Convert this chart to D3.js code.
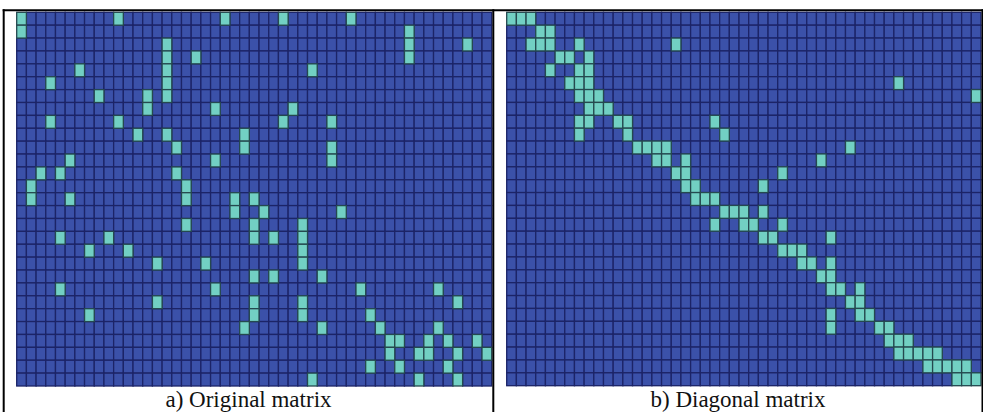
<!DOCTYPE html>
<html>
<head>
<meta charset="utf-8">
<script src="https://cdn.jsdelivr.net/npm/d3@7"></script>
<style>
  body { margin: 0; background: #fff; }
  svg { display: block; }
</style>
</head>
<body>
<div id="container"></div>
<script>
// sparse matrix, one list of non-zero column indices per row
const rowIds = d3.range(29);
const colIds = d3.range(49);

// a) original matrix
const originalMatrix = [
  [0, 10, 21, 27, 34],
  [0, 40],
  [15, 40, 46],
  [15, 18, 40],
  [6, 15, 30],
  [3, 15],
  [8, 13, 15],
  [13, 20, 28],
  [3, 10, 27, 32],
  [12, 15, 23],
  [16, 23, 32],
  [5, 20, 32],
  [2, 4, 16],
  [1, 17],
  [1, 5, 17, 22, 24],
  [22, 25, 33],
  [17, 24, 29],
  [4, 9, 24, 26, 29],
  [7, 11, 29],
  [14, 19, 29],
  [24, 26, 31],
  [4, 20, 35, 43],
  [14, 24, 29, 45],
  [7, 24, 29, 36],
  [23, 31, 37, 43],
  [38, 39, 42, 44, 47],
  [38, 41, 42, 45, 48],
  [36, 39, 44],
  [30, 41, 45]
];

// b) diagonal (reordered) matrix
const diagonalMatrix = [
  [0, 1, 2],
  [3, 4],
  [2, 3, 4, 7, 17],
  [5, 6, 8],
  [4, 7, 8],
  [6, 7, 8, 40],
  [7, 8, 9, 48],
  [8, 9, 10],
  [7, 8, 11, 12, 21],
  [7, 12, 22],
  [13, 14, 15, 16, 35],
  [15, 16, 18, 32],
  [17, 18, 28],
  [18, 19, 26],
  [19, 20, 21],
  [22, 23, 24, 26],
  [21, 24, 25, 28],
  [26, 27, 33],
  [28, 29, 30],
  [30, 31, 33],
  [32, 33],
  [33, 34, 36],
  [35, 36],
  [33, 36, 37],
  [33, 38, 39],
  [39, 40, 41],
  [40, 41, 42, 43, 44],
  [43, 44, 45, 46, 47],
  [46, 47, 48]
];

const captions = ["a) Original matrix", "b) Diagonal matrix"];

/* layout */
const width = 983, height = 412;
const panels = [
  { matrix: originalMatrix, caption: captions[0], left: 16.7, right: 491.7, top: 12.3, bottom: 386, cx: 248.5 },
  { matrix: diagonalMatrix, caption: captions[1], left: 506.7, right: 981, top: 12.3, bottom: 385.7, cx: 738 }
];

const color = d3.scaleOrdinal()
  .domain([0, 1])
  .range(["#3b51a9", "#72d0c3"]);
const strokeColor = d3.scaleOrdinal()
  .domain([0, 1])
  .range(["#1c2467", "#25494f"]);

const svg = d3.select("#container")
  .append("svg")
  .attr("width", width)
  .attr("height", height);

panels.forEach(p => {
  const x = d3.scaleBand().domain(colIds).range([p.left, p.right]);
  const y = d3.scaleBand().domain(rowIds).range([p.top, p.bottom]);

  const cells = [];
  rowIds.forEach(r => {
    colIds.forEach(c => {
      cells.push({ r: r, c: c, v: p.matrix[r].includes(c) ? 1 : 0 });
    });
  });
  // zeros first so the lit cells' outlines sit on top
  cells.sort((a, b) => a.v - b.v);

  const g = svg.append("g");

  g.append("rect")
    .attr("x", p.left)
    .attr("y", p.top)
    .attr("width", p.right - p.left)
    .attr("height", p.bottom - p.top)
    .attr("fill", "#1c2467");

  g.selectAll("rect.cell")
    .data(cells)
    .join("rect")
    .attr("class", "cell")
    .attr("x", d => x(d.c))
    .attr("y", d => y(d.r))
    .attr("width", x.bandwidth())
    .attr("height", y.bandwidth())
    .attr("fill", d => color(d.v))
    .attr("stroke", d => strokeColor(d.v))
    .attr("stroke-width", 1.3);

  svg.append("text")
    .attr("x", p.cx)
    .attr("y", 407)
    .attr("text-anchor", "middle")
    .attr("font-family", "'Liberation Serif', 'Times New Roman', serif")
    .attr("font-size", "23px")
    .attr("fill", "#111")
    .text(p.caption);
});

// table frame
const frame = svg.append("g")
  .attr("stroke", "#000")
  .attr("stroke-width", 2);
frame.append("line").attr("x1", 2.7).attr("x2", 983).attr("y1", 10.3).attr("y2", 10.3);
frame.append("line").attr("x1", 3.7).attr("x2", 3.7).attr("y1", 9.3).attr("y2", 412);
frame.append("line").attr("x1", 493.3).attr("x2", 493.3).attr("y1", 9.3).attr("y2", 412);
frame.append("line").attr("x1", 982.5).attr("x2", 982.5).attr("y1", 9.3).attr("y2", 412);
</script>
</body>
</html>
